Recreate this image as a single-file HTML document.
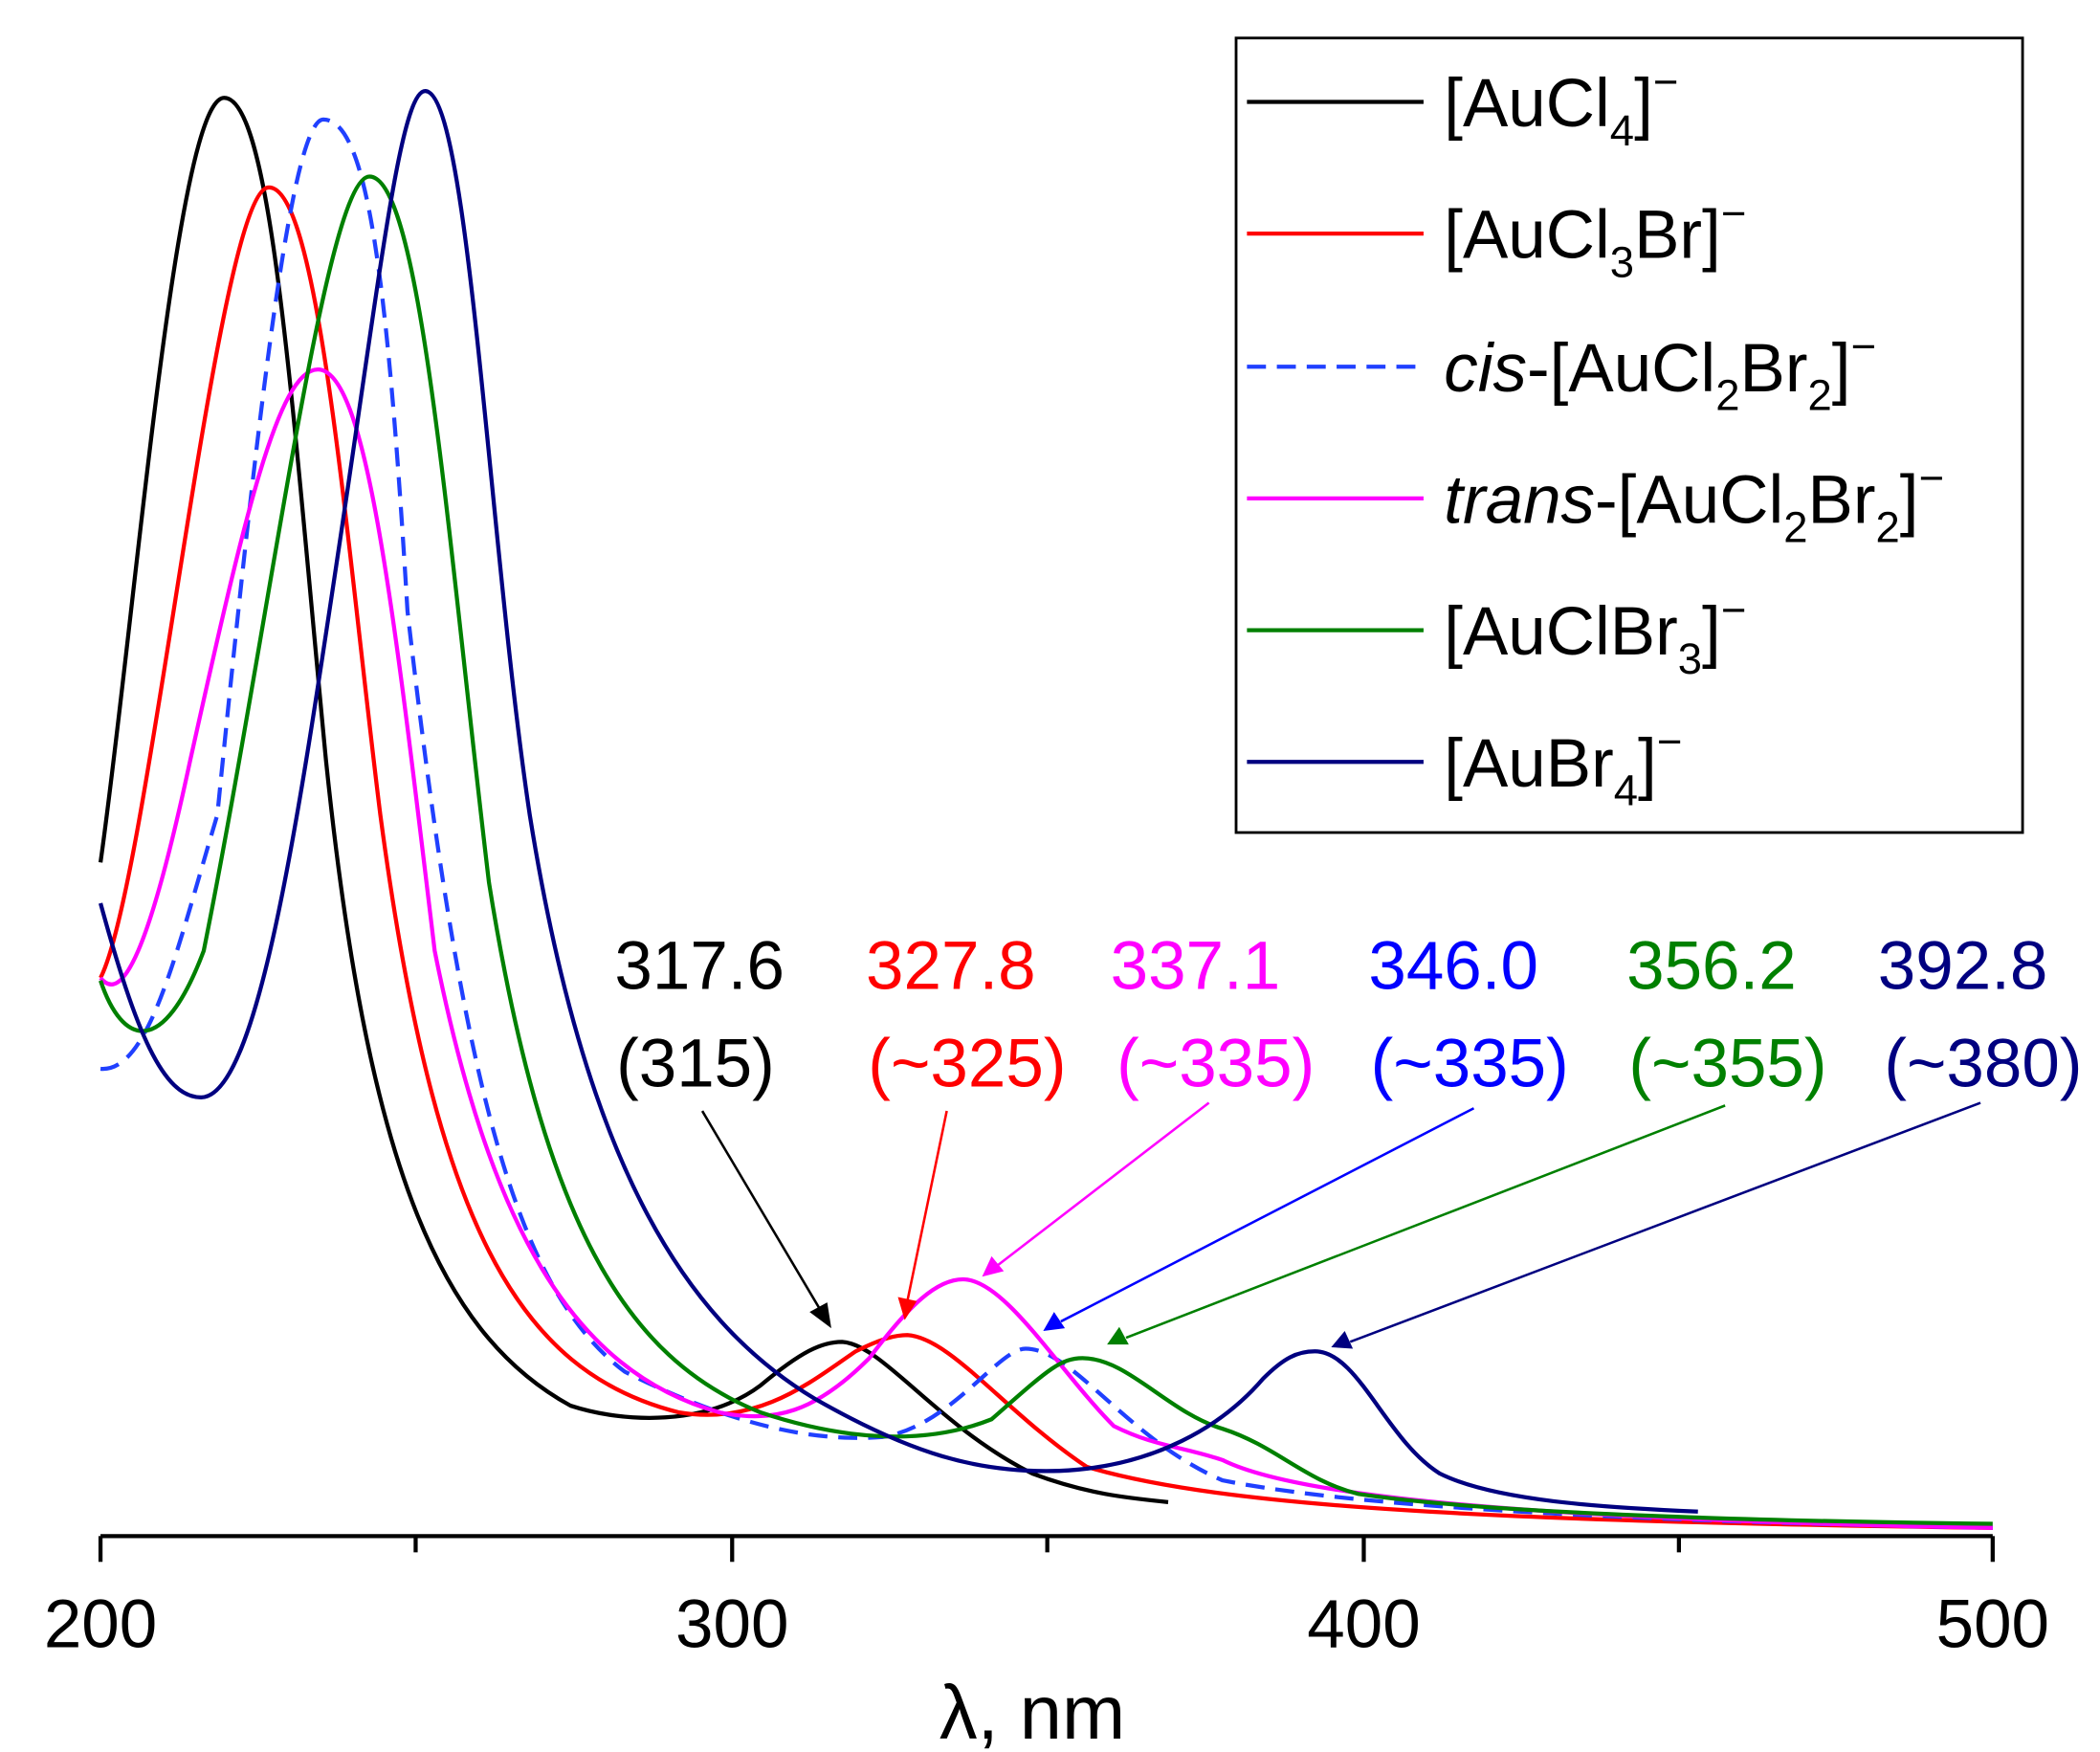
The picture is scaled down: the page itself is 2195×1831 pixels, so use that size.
<!DOCTYPE html>
<html><head><meta charset="utf-8"><style>
html,body{margin:0;padding:0;background:#fff}
svg{display:block}
text{font-family:"Liberation Sans",Arial,sans-serif}
</style></head><body>
<svg width="2195" height="1831" viewBox="0 0 1546 1290" preserveAspectRatio="none" xmlns="http://www.w3.org/2000/svg">
<defs>
<marker id="ak" markerWidth="10" markerHeight="8" refX="9" refY="4" orient="auto" markerUnits="userSpaceOnUse" viewBox="0 0 10 8"><path d="M0,0 L10,4 L0,8 Z" fill="#000"/></marker>
</defs>
<!-- axis -->
<g stroke="#000" stroke-width="3" fill="none">
<line x1="74" y1="1131" x2="1467" y2="1131"/>
<line x1="74" y1="1131" x2="74" y2="1150"/>
<line x1="306" y1="1131" x2="306" y2="1143"/>
<line x1="539" y1="1131" x2="539" y2="1150"/>
<line x1="771" y1="1131" x2="771" y2="1143"/>
<line x1="1004" y1="1131" x2="1004" y2="1150"/>
<line x1="1236" y1="1131" x2="1236" y2="1143"/>
<line x1="1467" y1="1131" x2="1467" y2="1150"/>
</g>
<g font-size="50" text-anchor="middle" fill="#000">
<text x="74" y="1213">200</text><text x="539" y="1213">300</text><text x="1004" y="1213">400</text><text x="1467" y="1213">500</text>
<text x="760" y="1280" font-size="56">λ, nm</text>
</g>
<!-- curves -->
<g fill="none" stroke-width="3">
<path stroke="#000" d="M74,635 C100,450 130,72 165,72 C200,72 215,300 240,560 C270,850 320,980 420,1035 C460,1048 520,1050 560,1020 C590,995 605,988 620,988 C650,990 690,1050 760,1085 C800,1100 830,1103 860,1106"/>
<path stroke="#ff0000" d="M74,720 C110,650 160,138 198,138 C235,138 255,400 280,600 C320,900 380,1010 500,1040 C560,1050 600,1015 630,995 C650,985 660,983 668,983 C700,985 740,1040 800,1080 C900,1110 1100,1120 1467,1125"/>
<path stroke="#2040ff" stroke-dasharray="14,8" d="M74,787 C110,790 130,700 160,600 C190,300 215,88 238,88 C270,88 285,200 300,450 C340,800 380,950 460,1010 C540,1050 600,1062 650,1058 C700,1050 735,993 755,993 C790,993 830,1060 900,1090 C1000,1110 1200,1120 1467,1125"/>
<path stroke="#ff00ff" d="M74,720 C90,740 110,700 140,560 C180,380 205,272 234,272 C270,272 290,450 320,700 C360,900 420,1010 530,1040 C570,1048 600,1040 640,1000 C670,960 690,942 709,942 C740,942 780,1010 820,1050 C850,1065 870,1065 900,1075 C950,1100 1100,1118 1467,1125"/>
<path stroke="#008000" d="M74,722 C90,770 120,780 150,700 C200,450 240,130 272,130 C310,130 330,400 360,650 C400,900 460,1000 560,1040 C620,1060 680,1065 730,1045 C770,1010 780,1000 797,1000 C830,1000 860,1040 900,1052 C940,1065 960,1090 1000,1100 C1100,1115 1300,1120 1467,1122"/>
<path stroke="#000080" d="M74,665 C100,760 120,808 148,808 C190,808 220,600 250,400 C280,200 295,67 313,67 C345,67 360,400 390,600 C430,850 500,970 600,1030 C670,1070 720,1085 780,1083 C850,1080 900,1050 930,1015 C945,1000 955,995 968,995 C1000,995 1020,1060 1060,1085 C1100,1105 1180,1110 1250,1113"/>
</g>
<!-- annotations -->
<g font-size="50" text-anchor="middle">
<text x="515" y="728" fill="#000">317.6</text><text x="512" y="800" fill="#000">(315)</text>
<text x="700" y="728" fill="#ff0000">327.8</text><text x="712" y="800" fill="#ff0000">(~325)</text>
<text x="880" y="728" fill="#ff00ff">337.1</text><text x="895" y="800" fill="#ff00ff">(~335)</text>
<text x="1070" y="728" fill="#0000ff">346.0</text><text x="1082" y="800" fill="#0000ff">(~335)</text>
<text x="1260" y="728" fill="#008000">356.2</text><text x="1272" y="800" fill="#008000">(~355)</text>
<text x="1445" y="728" fill="#000080">392.8</text><text x="1460" y="800" fill="#000080">(~380)</text>
</g>
<g stroke-width="1.8">
<line x1="517" y1="818" x2="606" y2="968" stroke="#000"/><path d="M612,978 L596,966 L609,959 Z" fill="#000"/>
<line x1="697" y1="818" x2="668" y2="958" stroke="#ff0000"/><path d="M666,972 L661,955 L675,958 Z" fill="#ff0000"/>
<line x1="890" y1="812" x2="734" y2="932" stroke="#ff00ff"/><path d="M723,940 L730,925 L739,936 Z" fill="#ff00ff"/>
<line x1="1085" y1="816" x2="781" y2="973" stroke="#0000ff"/><path d="M768,980 L776,966 L784,978 Z" fill="#0000ff"/>
<line x1="1270" y1="814" x2="829" y2="985" stroke="#008000"/><path d="M815,990 L824,977 L831,990 Z" fill="#008000"/>
<line x1="1458" y1="812" x2="994" y2="988" stroke="#000080"/><path d="M980,992 L990,980 L996,993 Z" fill="#000080"/>
</g>
<!-- legend -->
<rect x="910" y="28" width="579" height="585" fill="#fff" stroke="#000" stroke-width="2"/>
<g stroke-width="3">
<line x1="918" y1="75" x2="1048" y2="75" stroke="#000"/>
<line x1="918" y1="172" x2="1048" y2="172" stroke="#ff0000"/>
<line x1="918" y1="270" x2="1048" y2="270" stroke="#2040ff" stroke-dasharray="14,8"/>
<line x1="918" y1="367" x2="1048" y2="367" stroke="#ff00ff"/>
<line x1="918" y1="464" x2="1048" y2="464" stroke="#008000"/>
<line x1="918" y1="561" x2="1048" y2="561" stroke="#000080"/>
</g>
<g font-size="50" fill="#000">
<text x="1063" y="93">[AuCl<tspan font-size="32" dy="14">4</tspan><tspan dy="-14">]</tspan><tspan font-size="32" dy="-22">−</tspan></text>
<text x="1063" y="190">[AuCl<tspan font-size="32" dy="14">3</tspan><tspan dy="-14">Br]</tspan><tspan font-size="32" dy="-22">−</tspan></text>
<text x="1063" y="288"><tspan font-style="italic">cis</tspan>-[AuCl<tspan font-size="32" dy="14">2</tspan><tspan dy="-14">Br</tspan><tspan font-size="32" dy="14">2</tspan><tspan dy="-14">]</tspan><tspan font-size="32" dy="-22">−</tspan></text>
<text x="1063" y="385"><tspan font-style="italic">trans</tspan>-[AuCl<tspan font-size="32" dy="14">2</tspan><tspan dy="-14">Br</tspan><tspan font-size="32" dy="14">2</tspan><tspan dy="-14">]</tspan><tspan font-size="32" dy="-22">−</tspan></text>
<text x="1063" y="482">[AuClBr<tspan font-size="32" dy="14">3</tspan><tspan dy="-14">]</tspan><tspan font-size="32" dy="-22">−</tspan></text>
<text x="1063" y="579">[AuBr<tspan font-size="32" dy="14">4</tspan><tspan dy="-14">]</tspan><tspan font-size="32" dy="-22">−</tspan></text>
</g>
</svg>
</body></html>
